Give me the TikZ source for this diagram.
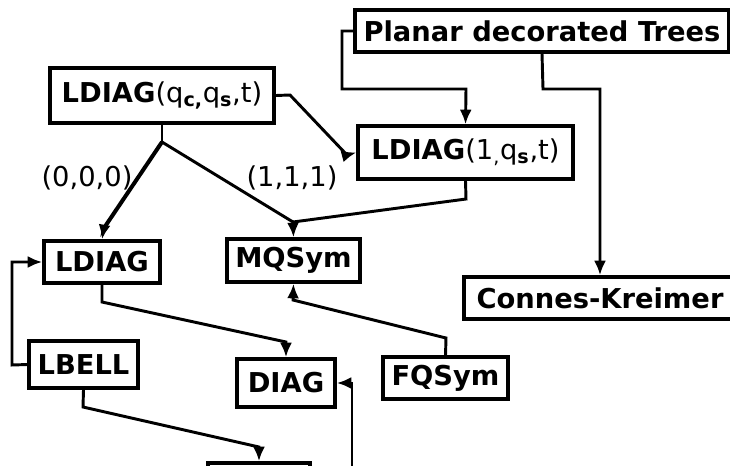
\documentclass[tikz,border=0pt]{standalone}
\usepackage{fontspec}
\setmainfont{DejaVu Sans}
\usetikzlibrary{arrows.meta}

\begin{document}
\begin{tikzpicture}[x=0.75pt,y=-0.75pt,
    box/.style={draw,line width=2.5pt,inner sep=0pt,font=\fontsize{20.5}{24}\selectfont},
    conn/.style={line width=2.2pt,-{Latex[length=11pt,width=9pt]}},
    lab/.style={font=\fontsize{20.5}{24}\selectfont}]
    \useasboundingbox (0,0) rectangle (730,465);
    \clip (0,0) rectangle (730,465);
    % boxes
    \node[box,minimum width=280.5pt,minimum height=31.5pt] (trees) at (542,31) {\textbf{Planar decorated Trees}};
    \node[box,minimum width=168pt,minimum height=41.25pt] (ldq) at (162,95.5)
      {\textbf{LDIAG}(q\textsubscript{\textbf{c,}}q\textsubscript{\textbf{s}},t)};
    \node[box,minimum width=161.25pt,minimum height=39.75pt] (ld1) at (465.5,152.5)
      {\textbf{LDIAG}(1\textsubscript{,}q\textsubscript{\textbf{s}},t)};
    \node[box,minimum width=87pt,minimum height=31.5pt] (ldiag) at (102,262) {\textbf{LDIAG}};
    \node[box,minimum width=99.75pt,minimum height=32.25pt] (mqsym) at (293.5,260.5) {\textbf{MQSym}};
    \node[box,minimum width=204pt,minimum height=31.5pt] (ck) at (600,298) {\textbf{Connes-Kreimer}\hspace{14pt}};
    \node[box,minimum width=81.75pt,minimum height=35.25pt] (lbell) at (83.5,364.5) {\textbf{LBELL}};
    \node[box,minimum width=73.5pt,minimum height=36pt] (diag) at (286,383) {\textbf{DIAG}};
    \node[box,minimum width=93.75pt,minimum height=31.5pt] (fqsym) at (445.5,378) {\textbf{FQSym}};
    \node[box,minimum width=76.5pt,minimum height=33.75pt] (low) at (259,485.5) {};
    \coordinate (br) at (162,142);
    \coordinate (below) at (352,480);
    % labels
    \node[lab] (l000) at (87,178) {(0,0,0)};
    \node[lab] (l111) at (292,178) {(1,1,1)};
    % arrows
    \draw[conn] (trees.west) -- (342,31) |- (466,89) -- (ld1.north);
    \draw[conn] (trees.south) -- (543,89) -| (ck.north);
    \draw[conn] (ldq.east) -- (290,95) -- (347,155) -- (ld1.west);
    \draw[line width=2.2pt] (ldq.south) -- (br);
    \draw[conn,line width=3pt] (br) -- (104,228) -- (ldiag.north);
    \draw[conn] (br) -- (293,222) -- (mqsym.north);
    \draw[line width=2.2pt] (ld1.south) -- (466,199) -- (293,222);
    \draw[conn] (ldiag.south) -- (102,302) -- (286,342) -- (diag.north);
    \draw[conn] (lbell.west) -- (12,365) |- (ldiag.west);
    \draw[conn] (lbell.south) -- (83,407) -- (259,447) -- (low.north);
    \draw[conn] (fqsym.north) -- (446,338) -- (293,300) -- (mqsym.south);
    \draw[conn] (below) |- (diag.east);
\end{tikzpicture}
\end{document}
